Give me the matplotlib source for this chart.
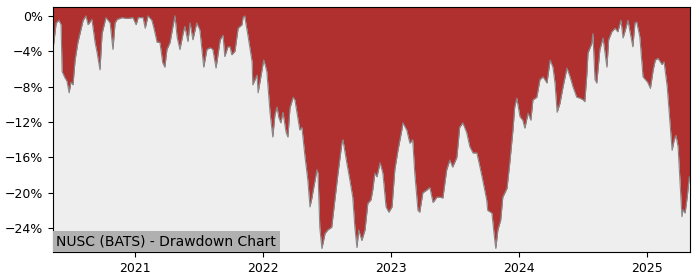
import pandas as pd
import matplotlib
matplotlib.use("Agg")
import matplotlib.pyplot as plt
import matplotlib.dates as mdates
from matplotlib.ticker import PercentFormatter

# drawdown readings (date, % below previous high)
dates = [
    "2020-05-12", "2020-05-21", "2020-05-29", "2020-06-04", "2020-06-07", "2020-06-15",
    "2020-06-21", "2020-06-27", "2020-07-02", "2020-07-08", "2020-07-14", "2020-07-22",
    "2020-08-06", "2020-08-14", "2020-08-20", "2020-08-31", "2020-09-09", "2020-09-15",
    "2020-09-23", "2020-09-29", "2020-10-10", "2020-10-22", "2020-10-30", "2020-11-05",
    "2020-11-11", "2020-11-25", "2020-12-09", "2020-12-26",
    "2021-01-04", "2021-01-10", "2021-01-24", "2021-01-30", "2021-02-07", "2021-02-18",
    "2021-02-24", "2021-03-05", "2021-03-13", "2021-03-21", "2021-03-27", "2021-04-02",
    "2021-04-11", "2021-04-19", "2021-04-25", "2021-05-01", "2021-05-09", "2021-05-18",
    "2021-05-23", "2021-06-01", "2021-06-07", "2021-06-15", "2021-06-26", "2021-07-05",
    "2021-07-16", "2021-07-25", "2021-08-03", "2021-08-11", "2021-08-20", "2021-09-01",
    "2021-09-09", "2021-09-14", "2021-09-23", "2021-09-29", "2021-10-04", "2021-10-13",
    "2021-10-22", "2021-11-02", "2021-11-05", "2021-11-10", "2021-11-13", "2021-11-19",
    "2021-12-01", "2021-12-03", "2021-12-15", "2021-12-18",
    "2022-01-03", "2022-01-07", "2022-01-12", "2022-01-21", "2022-01-29", "2022-02-04",
    "2022-02-10", "2022-02-15", "2022-02-21", "2022-02-27", "2022-03-08", "2022-03-13",
    "2022-03-19", "2022-03-28", "2022-04-02", "2022-04-16", "2022-04-22", "2022-05-01",
    "2022-05-09", "2022-05-15", "2022-05-21", "2022-05-23", "2022-06-04", "2022-06-07",
    "2022-06-12", "2022-06-18", "2022-06-27", "2022-07-05", "2022-07-16", "2022-07-25",
    "2022-08-03", "2022-08-14", "2022-08-17", "2022-08-28", "2022-09-06", "2022-09-14",
    "2022-09-20", "2022-09-26", "2022-10-01", "2022-10-10", "2022-10-19", "2022-10-27",
    "2022-11-05", "2022-11-10", "2022-11-16", "2022-11-22", "2022-12-01", "2022-12-09",
    "2022-12-18", "2022-12-26",
    "2023-01-04", "2023-01-12", "2023-01-21", "2023-02-01", "2023-02-04", "2023-02-15",
    "2023-02-24", "2023-03-04", "2023-03-10", "2023-03-19", "2023-03-24", "2023-04-02",
    "2023-04-13", "2023-04-22", "2023-05-01", "2023-05-12", "2023-05-21", "2023-05-29",
    "2023-06-09", "2023-06-18", "2023-06-26", "2023-07-08", "2023-07-16", "2023-07-25",
    "2023-08-05", "2023-08-14", "2023-08-23", "2023-09-03", "2023-09-12", "2023-09-20",
    "2023-10-01", "2023-10-04", "2023-10-16", "2023-10-22", "2023-10-27", "2023-11-02",
    "2023-11-10", "2023-11-16", "2023-11-28", "2023-12-06", "2023-12-15", "2023-12-20",
    "2023-12-26",
    "2024-01-04", "2024-01-12", "2024-01-18", "2024-01-27", "2024-02-04", "2024-02-10",
    "2024-02-21", "2024-03-01", "2024-03-10", "2024-03-21", "2024-03-30", "2024-04-07",
    "2024-04-13", "2024-04-19", "2024-04-27", "2024-05-06", "2024-05-17", "2024-05-26",
    "2024-06-03", "2024-06-14", "2024-06-23", "2024-07-02", "2024-07-07", "2024-07-13",
    "2024-07-16", "2024-07-27", "2024-07-30", "2024-08-05", "2024-08-10", "2024-08-19",
    "2024-08-28", "2024-09-08", "2024-09-13", "2024-09-22", "2024-10-01", "2024-10-09",
    "2024-10-18", "2024-10-24", "2024-11-01", "2024-11-07", "2024-11-12", "2024-11-21",
    "2024-11-27", "2024-12-02", "2024-12-11", "2024-12-20",
    "2025-01-02", "2025-01-10", "2025-01-18", "2025-01-24", "2025-02-01", "2025-02-12",
    "2025-02-18", "2025-02-27", "2025-03-04", "2025-03-13", "2025-03-19", "2025-03-24",
    "2025-03-30", "2025-04-05", "2025-04-10", "2025-04-13", "2025-04-19", "2025-04-25",
    "2025-05-01", "2025-05-03",
]
drawdown = [
    -3.8, -0.8, -0.5, -1.0, -6.3, -7.0,
    -7.4, -8.7, -7.5, -7.8, -5.0, -3.0,
    -0.5, 0.0, -1.0, -0.4, -3.0, -4.2,
    -6.1, -2.0, -0.2, -0.8, -3.8, -0.8,
    -0.4, -0.2, -0.3, -0.2,
    -1.0, -0.2, -0.2, -1.4, 0.0, -0.5,
    -1.4, -3.0, -3.0, -5.3, -5.8, -3.8,
    -3.0, -1.2, 0.0, -2.4, -3.8, -2.0,
    -1.2, -2.9, -0.8, -2.7, -0.8, -1.6,
    -5.8, -3.8, -3.6, -3.8, -5.9, -2.7,
    -2.2, -4.6, -3.5, -3.5, -4.4, -4.0,
    -1.4, -1.0, -0.2, 0.0, -0.8, -2.2,
    -5.2, -7.8, -6.7, -8.7,
    -5.0, -5.5, -6.3, -10.9, -13.7, -11.2,
    -10.3, -11.5, -12.1, -10.9, -13.2, -13.7,
    -10.4, -9.2, -9.5, -12.9, -12.6, -16.0,
    -18.6, -21.6, -20.5, -20.0, -17.4, -17.8,
    -23.9, -26.3, -24.6, -24.2, -23.9, -20.8,
    -17.8, -14.4, -14.0, -16.6, -18.6, -20.5,
    -23.9, -26.2, -24.2, -25.4, -24.2, -21.2,
    -20.8, -19.7, -17.8, -18.2, -16.6, -17.8,
    -21.6, -22.2,
    -21.6, -17.4, -15.2, -12.9, -12.1, -12.9,
    -14.4, -14.0, -17.8, -22.0, -22.2, -20.0,
    -19.7, -19.4, -21.1, -20.5, -20.5, -20.6,
    -17.4, -16.3, -17.1, -16.0, -12.6, -12.1,
    -13.2, -14.8, -15.5, -15.5, -17.1, -18.6,
    -20.8, -22.0, -22.3, -24.6, -26.3, -24.2,
    -23.1, -20.5, -19.5, -16.6, -12.9, -10.3,
    -9.3,
    -11.4, -11.8, -12.7, -11.0, -11.8, -9.5,
    -9.2, -7.2, -6.9, -7.6, -5.0, -5.8,
    -7.6, -10.9, -9.9, -8.0, -5.9, -6.9,
    -8.0, -9.2, -9.3, -9.5, -9.7, -6.5,
    -4.2, -3.1, -2.0, -7.2, -7.6, -3.8,
    -2.5, -5.8, -2.7, -1.8, -1.4, -1.8,
    -0.5, -2.5, -1.4, -0.5, -1.6, -3.5,
    -0.8, -0.7, -2.4, -6.9,
    -7.5, -8.2, -6.1, -5.0, -4.8, -5.5,
    -5.2, -8.0, -10.6, -15.2, -14.0, -13.5,
    -14.8, -19.0, -22.7, -21.9, -22.3, -20.5,
    -18.2, -18.3,
]
yticks = [0, -4, -8, -12, -16, -20, -24]
title = "NUSC (BATS) - Drawdown Chart"

days = pd.to_datetime(dates)
ymin, ymax = -26.7, 1.0

fig = plt.figure(figsize=(7, 2.8), dpi=100)
ax = fig.add_axes([0.0757, 0.1, 0.91, 0.875])
ax.set_facecolor("#eeeeee")

# red area runs from the curve up to the top of the plot
ax.fill_between(days, drawdown, ymax, color="#b03030", linewidth=0)
ax.plot(days, drawdown, color="#888888", linewidth=0.8)

ax.set_xlim(days[0], days[-1])
ax.set_ylim(ymin, ymax)
ax.set_yticks(yticks)
ax.yaxis.set_major_formatter(PercentFormatter(decimals=0))
ax.xaxis.set_major_locator(mdates.YearLocator())
ax.xaxis.set_major_formatter(mdates.DateFormatter("%Y"))
ax.tick_params(labelsize=9)

ax.text(0.0055, 0.014, title, transform=ax.transAxes, fontsize=10,
        va="bottom", ha="left",
        bbox=dict(facecolor="#b0b0b0", edgecolor="none", pad=2.5))

fig.savefig("out.png")
